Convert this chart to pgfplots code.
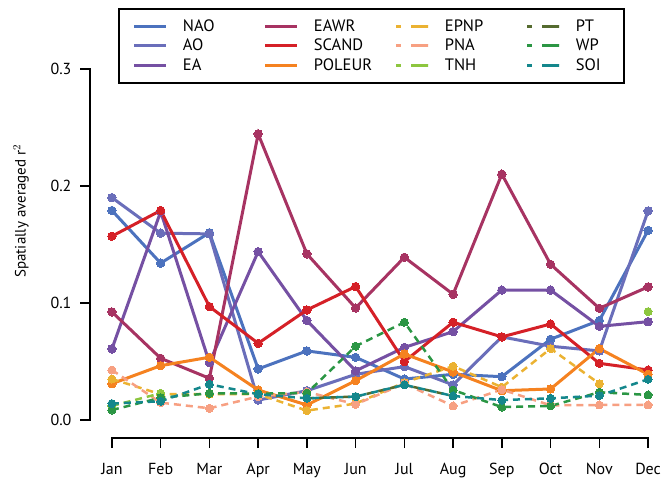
\documentclass[border=0pt]{standalone}
\usepackage{fontspec}
\setmainfont{PT Sans}
\usepackage{pgfplots}
\pgfplotsset{compat=1.18}

\definecolor{cNAO}{HTML}{4C72BE}
\definecolor{cAO}{HTML}{6A6EBA}
\definecolor{cEA}{HTML}{7550A3}
\definecolor{cEAWR}{HTML}{A73362}
\definecolor{cSCAND}{HTML}{D52027}
\definecolor{cPOLEUR}{HTML}{F58220}
\definecolor{cEPNP}{HTML}{EBB232}
\definecolor{cPNA}{HTML}{F7A082}
\definecolor{cTNH}{HTML}{8DC63F}
\definecolor{cPT}{HTML}{556B2F}
\definecolor{cWP}{HTML}{2B9644}
\definecolor{cSOI}{HTML}{14878C}

\pgfplotsset{
  solidser/.style={color=#1, line width=3pt, mark=*, mark size=4.2pt,
    mark options={solid, line width=0pt}},
  dashser/.style={color=#1, line width=2.5pt, dash pattern=on 7pt off 5pt,
    mark=*, mark size=4pt, mark options={solid, line width=0pt},
    legend image code/.code={\draw[##1, mark=none, line width=3pt,
      dash pattern=on 5pt off 10pt on 17pt off 0pt] (0pt,0pt) -- (32pt,0pt);}},
}

\begin{document}
\begin{tikzpicture}
\useasboundingbox (-90pt,-41pt) rectangle (582pt,438pt);
\begin{axis}[
  scale only axis, width=580pt, height=430pt,
  xmin=-0.45, xmax=11.45, ymin=-0.0154, ymax=0.352,
  clip=false, unbounded coords=jump,
  axis line style={draw=none},
  xtick pos=lower, ytick pos=left,
  tick align=outside, major tick length=10pt,
  every tick/.style={black, line width=1.5pt},
  xtick={0,...,11},
  xticklabels={Jan,Feb,Mar,Apr,May,Jun,Jul,Aug,Sep,Oct,Nov,Dec},
  ytick={0,0.1,0.2,0.3},
  yticklabels={0.0,0.1,0.2,0.3},
  tick label style={font=\fontsize{16}{18}\selectfont},
  xticklabel style={yshift=-12pt},
  yticklabel style={xshift=-5pt},
  ylabel={Spatially averaged r$^2$},
  ylabel style={at={(axis description cs:-0.119,0.528)}, anchor=center,
    font=\fontsize{15}{17}\selectfont},
  legend columns=3, transpose legend,
  legend style={at={(axis description cs:0.0483,1.0)}, anchor=north west,
    draw=black, line width=1.8pt, inner xsep=14pt, inner ysep=10pt,
    font=\fontsize{16.5}{19}\selectfont, row sep=4pt,
    nodes={inner xsep=0pt, inner ysep=1pt, text width=34pt, align=left},
    /tikz/every odd column/.append style={column sep=15pt},
    /tikz/every even column/.append style={column sep=47pt}},
  legend cell align=left,
  legend image code/.code={\draw[#1, mark=none, line width=3pt] (0pt,0pt) -- (32pt,0pt);},
]
% solid teleconnection indices
\addplot[solidser=cNAO] coordinates {(0,0.179) (1,0.134) (2,0.160) (3,0.0436) (4,0.059) (5,0.0535) (6,0.035) (7,0.039) (8,0.037) (9,0.069) (10,0.085) (11,0.162)};
\addlegendentry{NAO}
\addplot[solidser=cAO] coordinates {(0,0.190) (1,0.1596) (2,0.159) (3,0.017) (4,0.025) (5,0.039) (6,0.0456) (7,0.030) (8,0.071) (9,0.063) (10,0.059) (11,0.1786)};
\addlegendentry{AO}
\addplot[solidser=cEA] coordinates {(0,0.0607) (1,0.178) (2,0.049) (3,0.1438) (4,0.085) (5,0.042) (6,0.062) (7,0.0755) (8,0.111) (9,0.111) (10,0.080) (11,0.084)};
\addlegendentry{EA}
\addplot[solidser=cEAWR] coordinates {(0,0.0923) (1,0.0527) (2,0.0356) (3,0.2444) (4,0.1419) (5,0.0957) (6,0.139) (7,0.1074) (8,0.210) (9,0.133) (10,0.0954) (11,0.1137)};
\addlegendentry{EAWR}
\addplot[solidser=cSCAND] coordinates {(0,0.157) (1,0.179) (2,0.0969) (3,0.0655) (4,0.094) (5,0.114) (6,0.0499) (7,0.0835) (8,0.071) (9,0.082) (10,0.0484) (11,0.0427)};
\addlegendentry{SCAND}
\addplot[solidser=cPOLEUR] coordinates {(0,0.031) (1,0.0464) (2,0.0536) (3,0.0256) (4,0.0128) (5,0.0336) (6,0.0564) (7,0.041) (8,0.025) (9,0.0265) (10,0.061) (11,0.039)};
\addlegendentry{POLEUR}
% dashed indices (some defined only in part of the year)
\addplot[dashser=cEPNP] coordinates {(0,0.035) (1,0.022) (2,0.022) (3,0.022) (4,0.008) (5,0.014) (6,0.032) (7,0.046) (8,0.028) (9,0.061) (10,0.031) (11,nan)};
\addlegendentry{EPNP}
\addplot[dashser=cPNA] coordinates {(0,0.0427) (1,0.0148) (2,0.010) (3,0.020) (4,0.024) (5,0.0134) (6,0.031) (7,0.012) (8,0.026) (9,0.0125) (10,0.0128) (11,0.0128)};
\addlegendentry{PNA}
\addplot[dashser=cTNH] coordinates {(0,0.012) (1,0.0228) (2,nan) (3,nan) (4,nan) (5,nan) (6,nan) (7,nan) (8,nan) (9,nan) (10,nan) (11,0.0926)};
\addlegendentry{TNH}
\addplot[dashser=cPT] coordinates {(0,nan) (1,nan) (2,nan) (3,nan) (4,0.0185) (5,0.020) (6,0.030) (7,0.0205) (8,nan) (9,nan) (10,nan) (11,nan)};
\addlegendentry{PT}
\addplot[dashser=cWP] coordinates {(0,0.0085) (1,0.019) (2,0.0228) (3,0.0225) (4,0.023) (5,0.063) (6,0.0835) (7,0.0256) (8,0.011) (9,0.012) (10,0.0237) (11,0.0214)};
\addlegendentry{WP}
\addplot[dashser=cSOI] coordinates {(0,0.014) (1,0.016) (2,0.0305) (3,0.022) (4,0.0185) (5,0.020) (6,0.030) (7,0.0205) (8,0.017) (9,0.0185) (10,0.0208) (11,0.0348)};
\addlegendentry{SOI}
% offset spines
\draw[black, line width=1.5pt, line cap=rect] (axis cs:-0.45,0) -- (axis cs:-0.45,0.3);
\draw[black, line width=1.5pt, line cap=rect] (axis cs:0,-0.0154) -- (axis cs:11,-0.0154);
\end{axis}
\end{tikzpicture}
\end{document}
